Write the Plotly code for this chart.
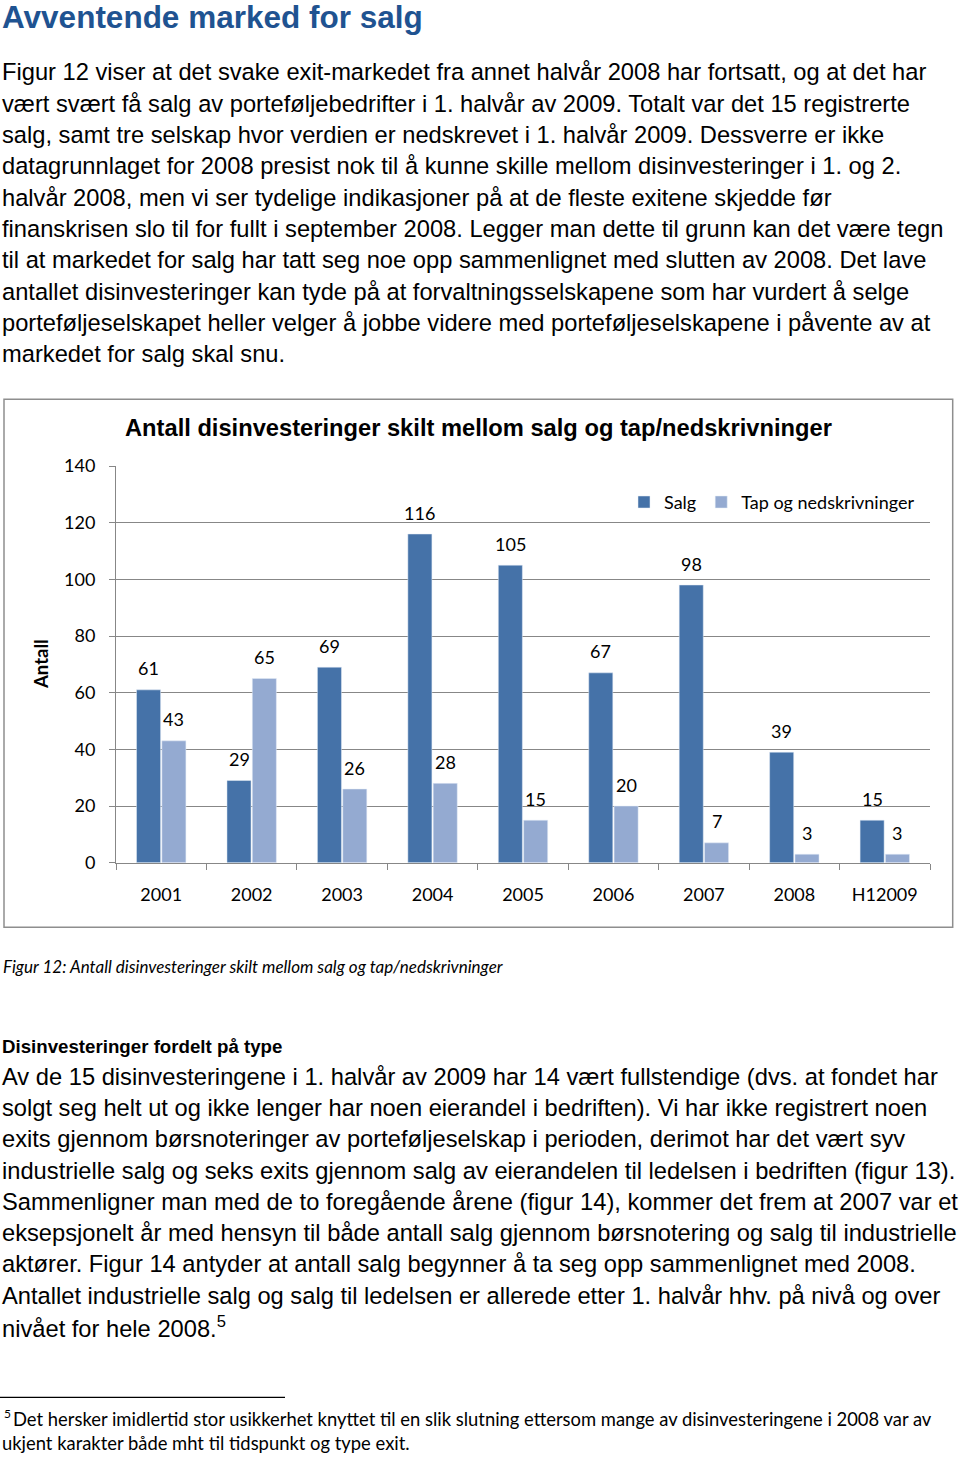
import plotly.graph_objects as go

W, H = 960, 1457

# ---------------- data ----------------
categories = ["2001", "2002", "2003", "2004", "2005", "2006", "2007", "2008", "H12009"]
salg = [61, 29, 69, 116, 105, 67, 98, 39, 15]
tap = [43, 65, 26, 28, 15, 20, 7, 3, 3]
series_names = ["Salg", "Tap og nedskrivninger"]
y_ticks = [0, 20, 40, 60, 80, 100, 120, 140]

heading = "Avventende marked for salg"
para1 = [
    "Figur 12 viser at det svake exit-markedet fra annet halvår 2008 har fortsatt, og at det har",
    "vært svært få salg av porteføljebedrifter i 1. halvår av 2009. Totalt var det 15 registrerte",
    "salg, samt tre selskap hvor verdien er nedskrevet i 1. halvår 2009. Dessverre er ikke",
    "datagrunnlaget for 2008 presist nok til å kunne skille mellom disinvesteringer i 1. og 2.",
    "halvår 2008, men vi ser tydelige indikasjoner på at de fleste exitene skjedde før",
    "finanskrisen slo til for fullt i september 2008. Legger man dette til grunn kan det være tegn",
    "til at markedet for salg har tatt seg noe opp sammenlignet med slutten av 2008. Det lave",
    "antallet disinvesteringer kan tyde på at forvaltningsselskapene som har vurdert å selge",
    "porteføljeselskapet heller velger å jobbe videre med porteføljeselskapene i påvente av at",
    "markedet for salg skal snu.",
]
chart_title = "Antall disinvesteringer skilt mellom salg og tap/nedskrivninger"
y_title = "Antall"
caption = "Figur 12: Antall disinvesteringer skilt mellom salg og tap/nedskrivninger"
subheading = "Disinvesteringer fordelt på type"
para2 = [
    "Av de 15 disinvesteringene i 1. halvår av 2009 har 14 vært fullstendige (dvs. at fondet har",
    "solgt seg helt ut og ikke lenger har noen eierandel i bedriften). Vi har ikke registrert noen",
    "exits gjennom børsnoteringer av porteføljeselskap i perioden, derimot har det vært syv",
    "industrielle salg og seks exits gjennom salg av eierandelen til ledelsen i bedriften (figur 13).",
    "Sammenligner man med de to foregående årene (figur 14), kommer det frem at 2007 var et",
    "eksepsjonelt år med hensyn til både antall salg gjennom børsnotering og salg til industrielle",
    "aktører. Figur 14 antyder at antall salg begynner å ta seg opp sammenlignet med 2008.",
    "Antallet industrielle salg og salg til ledelsen er allerede etter 1. halvår hhv. på nivå og over",
    "nivået for hele 2008.<sup>5</sup>",
]
footnote = [
    "Det hersker imidlertid stor usikkerhet knyttet til en slik slutning ettersom mange av disinvesteringene i 2008 var av",
    "ukjent karakter både mht til tidspunkt og type exit.",
]

# ---------------- styles ----------------
SANS = "Liberation Sans, Arial, sans-serif"
CAL = "Lato, Carlito, Calibri, sans-serif"
C_SALG = "#4572A8"
C_TAP = "#94AAD1"
GRID = "#878787"
LBL = 18


def px(x):
    return x / W


def py(y):
    return 1 - y / H


fig = go.Figure()
fig.add_trace(go.Bar(name=series_names[0], x=categories, y=salg, marker_color=C_SALG))
fig.add_trace(go.Bar(name=series_names[1], x=categories, y=tap, marker_color=C_TAP))

annotations = []

# heading
annotations.append(dict(text=f"<b>{heading}</b>", x=px(0), y=py(17.5), xanchor="left",
                        yanchor="middle", font=dict(family=SANS, size=31.5, color="#1F5391")))
for i, line in enumerate(para1):
    annotations.append(dict(text=line, x=px(0), y=py(72.5 + 31.3 * i), xanchor="left",
                            yanchor="middle", font=dict(family=SANS, size=23.7, color="black")))

# chart title
annotations.append(dict(text=f"<b>{chart_title}</b>", x=px(478.5), y=py(427.5), xanchor="center",
                        yanchor="middle", font=dict(family=SANS, size=23.7, color="black")))
# y title
annotations.append(dict(text=f"<b>{y_title}</b>", x=px(41), y=py(664), xanchor="center",
                        yanchor="middle", textangle=-90,
                        font=dict(family=CAL, size=18.5, color="black")))

# data labels (x given as category index on the category axis)
cat_w = (930 - 116) / len(categories)
off = cat_w * (1 - 0.44) / 4
for i, v in enumerate(salg):
    annotations.append(dict(text=str(v), x=i, y=v, xref="x", yref="y", xshift=-off, yshift=21.5,
                            xanchor="center", yanchor="middle",
                            font=dict(family=CAL, size=LBL, color="black")))
for i, v in enumerate(tap):
    annotations.append(dict(text=str(v), x=i, y=v, xref="x", yref="y", xshift=off, yshift=21.5,
                            xanchor="center", yanchor="middle",
                            font=dict(family=CAL, size=LBL, color="black")))

# caption
annotations.append(dict(text=f"<i>{caption}</i>", x=px(1), y=py(966.5), xanchor="left",
                        yanchor="middle", font=dict(family=CAL, size=17, color="black")))
# subheading
annotations.append(dict(text=f"<b>{subheading}</b>", x=px(0), y=py(1046.8), xanchor="left",
                        yanchor="middle", font=dict(family=SANS, size=18.7, color="black")))
for i, line in enumerate(para2):
    annotations.append(dict(text=line, x=px(0), y=py(1076.8 + 31.25 * i), xanchor="left",
                            yanchor="middle", font=dict(family=SANS, size=23.7, color="black")))

# footnote
annotations.append(dict(text="5", x=px(2), y=py(1413), xanchor="left", yanchor="middle",
                        font=dict(family=CAL, size=12, color="black")))
annotations.append(dict(text=footnote[0], x=px(11), y=py(1418.5), xanchor="left", yanchor="middle",
                        font=dict(family=CAL, size=18.4, color="black")))
annotations.append(dict(text=footnote[1], x=px(0), y=py(1442.5), xanchor="left", yanchor="middle",
                        font=dict(family=CAL, size=18.4, color="black")))

for a in annotations:
    a.setdefault("xref", "paper")
    a.setdefault("yref", "paper")
    a["showarrow"] = False

shapes = [
    dict(type="rect", xref="paper", yref="paper", x0=px(4), x1=px(952.7), y0=py(399.3), y1=py(927.3),
         line=dict(color="#8E8E8E", width=1.5), layer="below"),
    dict(type="line", xref="paper", yref="paper", x0=px(0), x1=px(285), y0=py(1397.3), y1=py(1397.3),
         line=dict(color="black", width=1.3)),
]

fig.update_layout(
    width=W, height=H, autosize=False,
    margin=dict(l=0, r=0, t=0, b=0, pad=0, autoexpand=False),
    paper_bgcolor="white", plot_bgcolor="white",
    barmode="group", bargap=0.44, bargroupgap=0.05,
    showlegend=True,
    legend=dict(orientation="h", x=px(920), xanchor="right", y=py(502.3), yanchor="middle",
                font=dict(family=CAL, size=LBL, color="black"), bgcolor="rgba(0,0,0,0)",
                itemwidth=30, tracegroupgap=0),
    annotations=annotations,
    shapes=shapes,
    xaxis=dict(domain=[px(116), px(930)], type="category", categoryorder="array",
               categoryarray=categories, range=[-0.5, len(categories) - 0.5], automargin=False,
               showline=True, linecolor=GRID, linewidth=1, tickangle=0,
               ticks="outside", tickson="boundaries", ticklen=6, tickcolor=GRID,
               showgrid=False, tickfont=dict(family=CAL, size=LBL, color="black"),
               ticklabelstandoff=16),
    yaxis=dict(domain=[py(862.7), py(466)], range=[0, 140], tickvals=y_ticks, automargin=False,
               showline=True, linecolor=GRID, linewidth=1, ticks="outside", ticklen=6,
               tickcolor=GRID, showgrid=True, gridcolor=GRID, gridwidth=1, zeroline=False,
               tickfont=dict(family=CAL, size=LBL, color="black"), ticklabelstandoff=10),
)

fig.write_html("out.html", config={"displayModeBar": False},
               post_script="document.body.style.margin='0';")
